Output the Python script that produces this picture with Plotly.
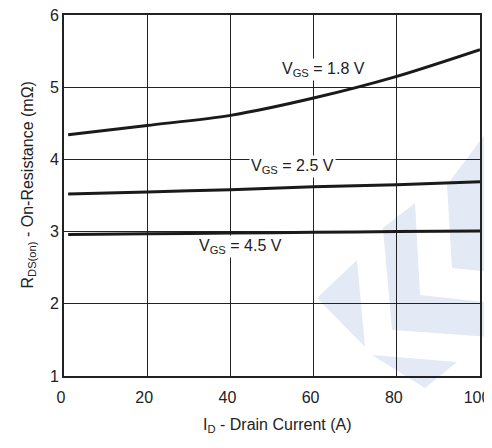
import plotly.graph_objects as go

current = [1, 20, 40, 60, 80, 100]
r_18 = [4.34, 4.47, 4.61, 4.85, 5.15, 5.52]
r_25 = [3.52, 3.55, 3.58, 3.62, 3.65, 3.69]
r_45 = [2.96, 2.97, 2.98, 2.99, 3.00, 3.01]

series = [("V<sub>GS</sub> = 1.8 V", r_18, 62.3, 5.24),
          ("V<sub>GS</sub> = 2.5 V", r_25, 55.0, 3.90),
          ("V<sub>GS</sub> = 4.5 V", r_45, 42.5, 2.79)]

x_title = "I<sub>D</sub> - Drain Current (A)"
y_title = "R<sub>DS(on)</sub> - On-Resistance (mΩ)"

OFF = 8  # page body margin
W, H = 492, 448
# desired plot area in page pixels: x 64..480, y 15..376
L, T = 64 - OFF, 15 - OFF
pw, ph = 416, 361
R = W - L - pw
B = H - T - ph
FONT = "Liberation Sans, Arial, sans-serif"

def px(x, y):
    # page pixel -> paper coords
    return (x - OFF - L) / pw, (T + ph - (y - OFF)) / ph

def poly(pts):
    p = [px(x, y) for x, y in pts]
    return "M " + " L ".join(f"{a:.4f},{b:.4f}" for a, b in p) + " Z"

wm = [
    [(317, 298), (357, 260), (365, 347)],
    [(383, 228), (415, 203), (420, 295), (492, 303), (492, 337), (392, 330)],
    [(447, 185), (492, 125), (492, 272), (452, 268)],
    [(372, 355), (457, 362), (425, 388)],
]

fig = go.Figure()
for name, vals, ax, ay in series:
    fig.add_trace(go.Scatter(x=current, y=vals, mode="lines", name=name,
                             line=dict(color="#1a1a1a", width=3, shape="spline", smoothing=0.8),
                             showlegend=False, hoverinfo="skip"))
    fig.add_annotation(x=ax, y=ay, text=name, showarrow=False, bgcolor="white",
                       font=dict(family=FONT, size=16, color="#222"), borderpad=1)

# axis titles
tx, ty = px(277, 437)
fig.add_annotation(x=tx, y=ty, xref="paper", yref="paper", text=x_title, showarrow=False,
                   font=dict(family=FONT, size=16, color="#222"))
ux, uy = px(17, 185)
fig.add_annotation(x=ux, y=uy, xref="paper", yref="paper", text=y_title, showarrow=False,
                   textangle=-90, font=dict(family=FONT, size=16, color="#222"))

shapes = []
for w in wm:
    shapes.append(dict(type="path", path=poly(w), xref="paper", yref="paper",
                       fillcolor="#e3e9f5", line=dict(width=0), layer="below"))
fig.update_layout(shapes=shapes)

fig.update_layout(
    width=W, height=H,
    margin=dict(l=L, r=R, t=T, b=B, autoexpand=False),
    paper_bgcolor="white", plot_bgcolor="rgba(0,0,0,0)",
    font=dict(family=FONT, size=16, color="#222"),
)
fig.update_xaxes(range=[0, 100], tickvals=[0, 20, 40, 60, 80, 100],
                 showgrid=True, gridcolor="#222", gridwidth=1,
                 showline=True, linecolor="#222", linewidth=2, mirror=True,
                 zeroline=False, ticks="", ticklabelstandoff=6, ticklabelshift=-3,
                 tickfont=dict(size=16), automargin=False, ticklabeloverflow="allow")
fig.update_yaxes(range=[1, 6], tickvals=[1, 2, 3, 4, 5, 6],
                 showgrid=True, gridcolor="#222", gridwidth=1,
                 showline=True, linecolor="#222", linewidth=2, mirror=True,
                 zeroline=False, ticks="", ticklabelstandoff=0,
                 tickfont=dict(size=16), automargin=False, ticklabeloverflow="allow")

fig.write_html("out.html")
